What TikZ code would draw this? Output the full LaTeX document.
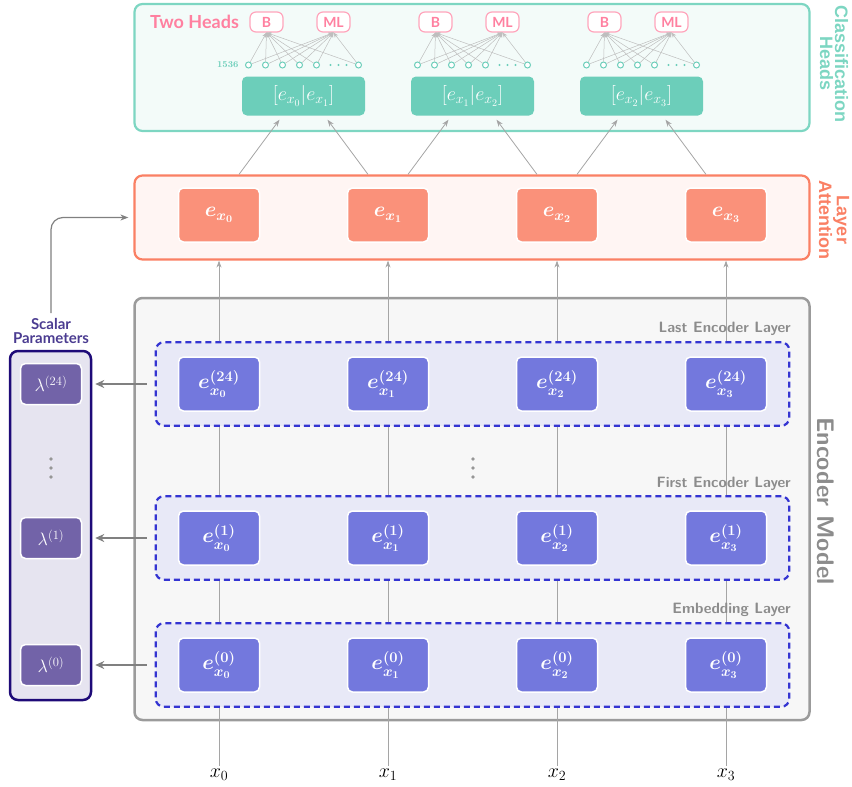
\documentclass[tikz,border=0pt]{standalone}
\usepackage{fontspec}
\usepackage{anyfontsize}
\usetikzlibrary{positioning,fit,calc,arrows.meta}
\newfontfamily\latofont{Lato}
\newfontfamily\arialfont{Liberation Sans}

\definecolor{encblue}{RGB}{115,120,221}
\definecolor{bandfill}{RGB}{232,233,247}
\definecolor{banddash}{RGB}{52,52,210}
\definecolor{encfill}{RGB}{247,247,247}
\definecolor{framegray}{RGB}{155,155,155}
\definecolor{labelgray}{RGB}{140,140,140}
\definecolor{attborder}{RGB}{250,128,100}
\definecolor{attfill}{RGB}{255,245,243}
\definecolor{attsalmon}{RGB}{250,145,122}
\definecolor{headborder}{RGB}{125,214,194}
\definecolor{headfill}{RGB}{243,251,249}
\definecolor{catteal}{RGB}{108,206,186}
\definecolor{headpink}{RGB}{255,128,160}
\definecolor{headedge}{RGB}{255,165,188}
\definecolor{scalarnavy}{RGB}{30,10,120}
\definecolor{scalarfill}{RGB}{230,228,240}
\definecolor{lampurple}{RGB}{114,99,168}
\definecolor{scalartext}{RGB}{75,60,145}
\definecolor{wiregray}{RGB}{165,165,165}
\definecolor{fangray}{RGB}{190,190,190}
\definecolor{arrowgray}{RGB}{128,128,128}
\definecolor{dotgray}{RGB}{150,150,150}

\pgfdeclarelayer{back}
\pgfdeclarelayer{wires}
\pgfdeclarelayer{bands}
\pgfsetlayers{back,wires,bands,main}

\tikzstyle{embnode} = [rectangle, rounded corners=5pt, minimum width=81pt, minimum height=54pt, draw=white, line width=1.5pt, fill=encblue, text=white, font=\fontsize{21}{25}\selectfont\boldmath]
\tikzstyle{attnode} = [embnode, fill=attsalmon]
\tikzstyle{catnode} = [rectangle, rounded corners=5pt, minimum width=123pt, minimum height=39pt, fill=catteal, text=white, font=\fontsize{20}{24}\selectfont]
\tikzstyle{lamnode} = [rectangle, rounded corners=5pt, minimum width=61pt, minimum height=41pt, draw=white, line width=1.5pt, fill=lampurple, text=white, font=\fontsize{18}{21}\selectfont]
\tikzstyle{headnode} = [rectangle, rounded corners=6pt, minimum width=33pt, minimum height=20pt, inner sep=1pt, draw=headedge, line width=1.2pt, fill=white, text=headpink, font=\latofont\bfseries\fontsize{14}{16}\selectfont]
\tikzstyle{neuron} = [circle, draw=catteal, line width=1pt, fill=white, inner sep=0pt, minimum size=6pt]
\tikzstyle{band} = [rectangle, rounded corners=8pt, draw=banddash, dash pattern=on 6pt off 4pt, line width=2.2pt, fill=bandfill, inner xsep=22pt, inner ysep=14pt]
\tikzstyle{frame} = [rectangle, rounded corners=8pt, line width=2.2pt, minimum width=675pt]
\tikzstyle{layerlabel} = [anchor=base east, inner sep=0pt, text=labelgray, font=\sffamily\bfseries\fontsize{15}{17}\selectfont]
\tikzstyle{sidelabel} = [rotate=-90, align=center, font=\arialfont\bfseries\fontsize{18}{15}\selectfont]
\tikzstyle{wire} = [draw=wiregray, line width=0.8pt]
\tikzstyle{uparrow} = [wire, -{Stealth[length=7pt,width=5pt]}]
\tikzstyle{fanline} = [draw=fangray, line width=0.5pt, -{Stealth[length=5pt,width=4pt]}]
\tikzstyle{lamarrow} = [draw=arrowgray, line width=1.8pt, -{Stealth[length=9pt,width=8pt]}]
\tikzstyle{bendarrow} = [draw=arrowgray, line width=1.2pt, rounded corners=12pt, -{Stealth[length=8pt,width=6pt]}]

\begin{document}
\begin{tikzpicture}[x=1pt, y=-1pt, node distance=169pt]
\useasboundingbox (0,0) rectangle (852,787);

% containers
\begin{pgfonlayer}{back}
\node (heads) [frame, draw=headborder, fill=headfill, minimum height=127pt] at (472,67.5) {};
\node (attn) [frame, draw=attborder, fill=attfill, minimum height=84pt] at (472,217.5) {};
\node (encoder) [frame, draw=framegray, fill=encfill, line width=2.5pt, minimum height=422pt] at (472,509) {};
\node (scalar) [rectangle, rounded corners=8pt, draw=scalarnavy, line width=2.5pt, fill=scalarfill, minimum width=81pt, minimum height=349pt] at (50.5,525.5) {};
\end{pgfonlayer}

% layer attention
\node (ex0) [attnode] at (219,215) {$e_{x_0}$};
\node (ex1) [attnode, right of=ex0] {$e_{x_1}$};
\node (ex2) [attnode, right of=ex1] {$e_{x_2}$};
\node (ex3) [attnode, right of=ex2] {$e_{x_3}$};

% encoder layers
\node (e24a) [embnode] at (219,384) {$e^{(24)}_{x_0}$};
\node (e24b) [embnode, right of=e24a] {$e^{(24)}_{x_1}$};
\node (e24c) [embnode, right of=e24b] {$e^{(24)}_{x_2}$};
\node (e24d) [embnode, right of=e24c] {$e^{(24)}_{x_3}$};

\node (e1a) [embnode, node distance=154pt, below of=e24a] {$e^{(1)}_{x_0}$};
\node (e1b) [embnode, right of=e1a] {$e^{(1)}_{x_1}$};
\node (e1c) [embnode, right of=e1b] {$e^{(1)}_{x_2}$};
\node (e1d) [embnode, right of=e1c] {$e^{(1)}_{x_3}$};

\node (e0a) [embnode, node distance=127pt, below of=e1a] {$e^{(0)}_{x_0}$};
\node (e0b) [embnode, right of=e0a] {$e^{(0)}_{x_1}$};
\node (e0c) [embnode, right of=e0b] {$e^{(0)}_{x_2}$};
\node (e0d) [embnode, right of=e0c] {$e^{(0)}_{x_3}$};

\node (x0) [node distance=110pt, below of=e0a, font=\fontsize{20}{24}\selectfont] {$x_0$};
\node (x1) [right of=x0, font=\fontsize{20}{24}\selectfont] {$x_1$};
\node (x2) [right of=x1, font=\fontsize{20}{24}\selectfont] {$x_2$};
\node (x3) [right of=x2, font=\fontsize{20}{24}\selectfont] {$x_3$};

\begin{pgfonlayer}{bands}
\node (band24) [band, fit=(e24a)(e24d)] {};
\node (band1) [band, fit=(e1a)(e1d)] {};
\node (band0) [band, fit=(e0a)(e0d)] {};
\end{pgfonlayer}

\node (lastlabel) [layerlabel] at (791,332) {Last Encoder Layer};
\node (firstlabel) [layerlabel] at (791,487) {First Encoder Layer};
\node (emblabel) [layerlabel] at (791,613) {Embedding Layer};
\node (enclabel) [rotate=-90, text=labelgray, font=\sffamily\bfseries\fontsize{24}{28}\selectfont] at (826,501) {Encoder Model};
\node (attlabel) [sidelabel, text=attborder] at (834,220) {Layer\\Attention};
\node (headlabel) [sidelabel, text=headborder] at (834,64) {Classification\\Heads};

\fill[dotgray] (473,459) circle (1.8pt) (473,468) circle (1.8pt) (473,477) circle (1.8pt);

% scalar parameters
\node (scalarlabel) [align=center, inner sep=1pt, text=scalartext, font=\latofont\bfseries\fontsize{15}{14}\selectfont] at (51,331) {Scalar\\Parameters};
\node (lam24) [lamnode, node distance=168pt, left of=e24a] {$\lambda^{(24)}$};
\node (lam1) [lamnode, node distance=168pt, left of=e1a] {$\lambda^{(1)}$};
\node (lam0) [lamnode, node distance=168pt, left of=e0a] {$\lambda^{(0)}$};
\fill[dotgray] (51,459) circle (1.8pt) (51,468) circle (1.8pt) (51,477) circle (1.8pt);

% classification heads
\node (cat01) [catnode] at (303.5,96) {$\left[e_{x_0}\middle|e_{x_1}\right]$};
\node (cat12) [catnode, right of=cat01] {$\left[e_{x_1}\middle|e_{x_2}\right]$};
\node (cat23) [catnode, right of=cat12] {$\left[e_{x_2}\middle|e_{x_3}\right]$};

\foreach \g in {01,12,23} {
  \node (b\g) [headnode, node distance=74pt, above of=cat\g, xshift=-37pt] {B};
  \node (ml\g) [headnode, node distance=74pt, above of=cat\g, xshift=30pt] {ML};
  \foreach \i/\dx in {1/-55,2/-38,3/-21,4/-4,5/13,6/55} {
    \node (n\g\i) [neuron, node distance=31pt, above of=cat\g, xshift=\dx pt] {};
    \draw[fanline] (n\g\i) -- (b\g.south);
    \draw[fanline] (n\g\i) -- (ml\g.south);
  }
  \fill[catteal] ($(cat\g)+(27,-31)$) circle (1.2pt) ($(cat\g)+(35,-31)$) circle (1.2pt) ($(cat\g)+(43,-31)$) circle (1.2pt);
}
\node (twoheads) [left=7pt of b01, text=headpink, font=\latofont\bfseries\fontsize{18}{20}\selectfont] {Two Heads};
\node (dimlabel) [left=3pt of n011, text=catteal, font=\bfseries\fontsize{9}{10}\selectfont] {1536};

% connectors
\begin{pgfonlayer}{wires}
\draw[wire] (x0.north) -- (e0a.south);
\draw[wire] (x1.north) -- (e0b.south);
\draw[wire] (x2.north) -- (e0c.south);
\draw[wire] (x3.north) -- (e0d.south);
\draw[wire] (e0a) -- (e1a);
\draw[wire] (e0b) -- (e1b);
\draw[wire] (e0c) -- (e1c);
\draw[wire] (e0d) -- (e1d);
\draw[wire] (e1a) -- (e24a);
\draw[wire] (e1b) -- (e24b);
\draw[wire] (e1c) -- (e24c);
\draw[wire] (e1d) -- (e24d);
\draw[uparrow] (e24a.north) -- (e24a.north |- attn.south);
\draw[uparrow] (e24b.north) -- (e24b.north |- attn.south);
\draw[uparrow] (e24c.north) -- (e24c.north |- attn.south);
\draw[uparrow] (e24d.north) -- (e24d.north |- attn.south);
\draw[uparrow] ($(ex0.north |- attn.north)+(20,0)$) -- ($(cat01.south)+(-24,4)$);
\draw[uparrow] ($(ex1.north |- attn.north)+(-20,0)$) -- ($(cat01.south)+(24,4)$);
\draw[uparrow] ($(ex1.north |- attn.north)+(20,0)$) -- ($(cat12.south)+(-24,4)$);
\draw[uparrow] ($(ex2.north |- attn.north)+(-20,0)$) -- ($(cat12.south)+(24,4)$);
\draw[uparrow] ($(ex2.north |- attn.north)+(20,0)$) -- ($(cat23.south)+(-24,4)$);
\draw[uparrow] ($(ex3.north |- attn.north)+(-20,0)$) -- ($(cat23.south)+(24,4)$);
\end{pgfonlayer}

\draw[lamarrow, shorten <=8pt, shorten >=3pt] (band24.west) -- (band24.west -| scalar.east);
\draw[lamarrow, shorten <=8pt, shorten >=3pt] (band1.west) -- (band1.west -| scalar.east);
\draw[lamarrow, shorten <=8pt, shorten >=3pt] (band0.west) -- (band0.west -| scalar.east);
\draw[bendarrow, shorten <=4pt, shorten >=5pt] (scalarlabel.north) |- (attn.west);
\end{tikzpicture}
\end{document}
